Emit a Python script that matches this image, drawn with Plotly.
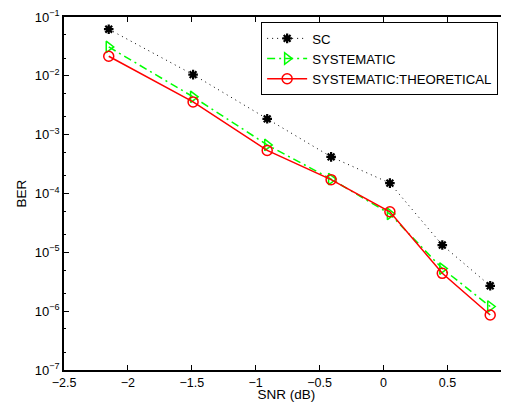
import plotly.graph_objects as go

snr = [-2.15, -1.49, -0.91, -0.41, 0.05, 0.46, 0.835]
ber_sc = [6.2e-2, 1.05e-2, 1.86e-3, 4.2e-4, 1.5e-4, 1.33e-5, 2.7e-6]
ber_sys = [3.1e-2, 4.4e-3, 6.7e-4, 1.76e-4, 4.5e-5, 5.3e-6, 1.2e-6]
ber_theo = [2.15e-2, 3.6e-3, 5.4e-4, 1.72e-4, 4.9e-5, 4.4e-6, 8.6e-7]

ytick_vals = [1e-7, 1e-6, 1e-5, 1e-4, 1e-3, 1e-2, 1e-1]
ytick_text = ["10<sup>−7</sup>", "10<sup>−6</sup>", "10<sup>−5</sup>", "10<sup>−4</sup>",
              "10<sup>−3</sup>", "10<sup>−2</sup>", "10<sup>−1</sup>"]
xtick_vals = [-2.5, -2, -1.5, -1, -0.5, 0, 0.5]
xtick_text = ["−2.5", "−2", "−1.5", "−1", "−0.5", "0", "0.5"]

FONT = "Liberation Sans, Arial, Helvetica, sans-serif"

fig = go.Figure()
fig.add_trace(go.Scatter(
    x=snr, y=ber_sc, name="SC", mode="lines+markers",
    line=dict(color="black", width=1, dash="1px,4px"),
    marker=dict(symbol="asterisk-open", size=8, color="black", line=dict(color="black", width=2.2))))
fig.add_trace(go.Scatter(
    x=snr, y=ber_sys, name="SYSTEMATIC", mode="lines+markers",
    line=dict(color="#00ff00", width=1.5, dash="8px,4px,2px,4px"),
    marker=dict(symbol="triangle-right-open", size=10, color="#00ff00", line=dict(color="#00ff00", width=1.5))))
fig.add_trace(go.Scatter(
    x=snr, y=ber_theo, name="SYSTEMATIC:THEORETICAL", mode="lines+markers",
    line=dict(color="#ff0000", width=1.5),
    marker=dict(symbol="circle-open", size=10, color="#ff0000", line=dict(color="#ff0000", width=1.5))))
# invisible trace to activate the right-side tick axis
fig.add_trace(go.Scatter(x=[snr[0]], y=[ber_sc[0]], yaxis="y2", mode="markers",
                         marker=dict(opacity=0), showlegend=False, hoverinfo="skip"))

fig.update_layout(
    width=501, height=394,
    margin=dict(l=56, r=0, t=9, b=32, autoexpand=False),
    paper_bgcolor="white", plot_bgcolor="white",
    font=dict(family=FONT, size=12, color="black"),
    showlegend=True,
    legend=dict(x=0.443, y=0.985, xanchor="left", yanchor="top",
                bgcolor="white", bordercolor="black", borderwidth=1,
                font=dict(size=13.2), tracegroupgap=0, itemwidth=40),
    xaxis=dict(range=[-2.5, 0.982], tickvals=xtick_vals, ticktext=xtick_text, automargin=False,
               tickfont=dict(size=12.5),
               showgrid=False, zeroline=False, showline=True, linecolor="black", linewidth=1.5,
               mirror="ticks", ticks="inside", ticklen=5, tickcolor="black",
               title=dict(text="SNR (dB)", standoff=1, font=dict(size=13.5))),
    yaxis=dict(type="log", range=[-7, -1], tickvals=ytick_vals, ticktext=ytick_text, automargin=False,
               tickfont=dict(size=13),
               showgrid=False, zeroline=False, showline=True, linecolor="black", linewidth=1.5,
               ticks="inside", ticklen=5, tickcolor="black",
               minor=dict(ticks="inside", ticklen=2, tickcolor="black", showgrid=False),
               title=dict(text="BER", standoff=5, font=dict(size=13.5))),
    yaxis2=dict(type="log", range=[-7, -1], overlaying="y", side="right", anchor="x", automargin=False,
                tickvals=ytick_vals, showticklabels=False, showgrid=False, zeroline=False,
                showline=False, ticks="inside", ticklen=5, tickcolor="black"),
)

fig.write_html("out.html")
